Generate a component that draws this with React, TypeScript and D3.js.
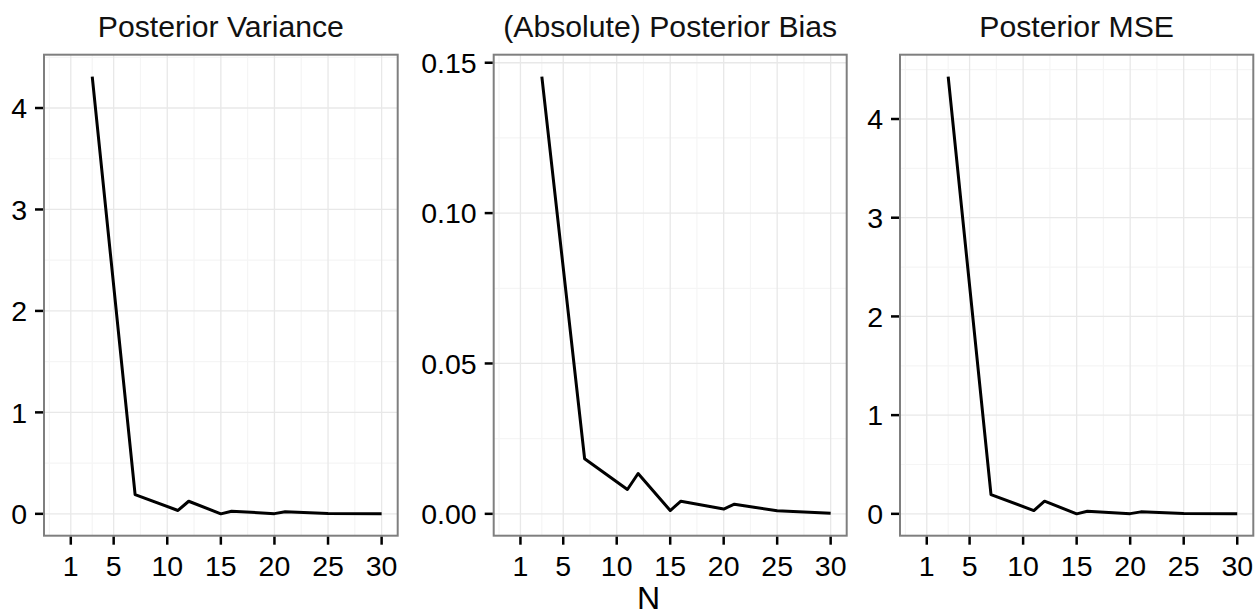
import React from "react";
import * as d3 from "d3";

const nValues = [3, 7, 11, 12, 15, 16, 20, 21, 25, 30];
const varianceValues = [4.31, 0.19, 0.033, 0.124, 0.0, 0.026, 0.002, 0.02, 0.003, 0.001];
const biasValues = [0.1454, 0.0183, 0.0081, 0.0134, 0.0011, 0.0042, 0.0016, 0.0032, 0.001, 0.0002];
const mseValues = [4.43, 0.195, 0.033, 0.128, 0.0, 0.027, 0.002, 0.02, 0.003, 0.001];

const xBreaks = [1, 5, 10, 15, 20, 25, 30];
const xLimits = [0, 30];
const titles = ["Posterior Variance", "(Absolute) Posterior Bias", "Posterior MSE"];
const yBreaksVar = [0, 1, 2, 3, 4];
const yBreaksBias = [0, 0.05, 0.1, 0.15];
const yBreaksMse = [0, 1, 2, 3, 4];
const xTitle = "N";

const W = 1258;
const H = 616;
const FONT = "'Liberation Sans', Arial, Helvetica, sans-serif";
const TOP = 54.7;
const BOTTOM = 535.7;
const TICK_FS = 28.5;
const TITLE_FS = 30.2;

function expand(lo: number, hi: number): [number, number] {
  const d = (hi - lo) * 0.05;
  return [lo - d, hi + d];
}

function minorBreaks(b: number[], dom: [number, number]): number[] {
  const bb = [...b];
  const bd0 = bb[1] - bb[0];
  const bd1 = bb[bb.length - 1] - bb[bb.length - 2];
  if (dom[0] < bb[0]) bb.unshift(bb[0] - bd0);
  if (dom[1] > bb[bb.length - 1]) bb.push(bb[bb.length - 1] + bd1);
  const out: number[] = [];
  for (let i = 0; i < bb.length - 1; i++) {
    const m = (bb[i] + bb[i + 1]) / 2;
    if (m >= dom[0] && m <= dom[1]) out.push(m);
  }
  return out;
}

type PanelProps = {
  left: number;
  right: number;
  title: string;
  values: number[];
  yBreaks: number[];
  fmt: (v: number) => string;
};

function Panel({ left, right, title, values, yBreaks, fmt }: PanelProps) {
  const xDom = expand(xLimits[0], xLimits[1]);
  const x = d3.scaleLinear().domain(xDom).range([left, right]);
  const yExt = d3.extent(values) as [number, number];
  const yDom = expand(Math.min(0, yExt[0]), yExt[1]);
  const y = d3.scaleLinear().domain(yDom).range([BOTTOM, TOP]);
  const xMinor = minorBreaks(xBreaks, xDom);
  const yMinor = minorBreaks(yBreaks, yDom);
  const line = d3
    .line<number>()
    .x((_, i) => x(nValues[i]))
    .y((d) => y(d));
  const tickLen = 9;
  return (
    <g>
      <rect x={left} y={TOP} width={right - left} height={BOTTOM - TOP} fill="#ffffff" />
      {xMinor.map((v, i) => (
        <line key={"xm" + i} x1={x(v)} x2={x(v)} y1={TOP} y2={BOTTOM} stroke="#f5f5f5" strokeWidth={1.2} />
      ))}
      {yMinor.map((v, i) => (
        <line key={"ym" + i} x1={left} x2={right} y1={y(v)} y2={y(v)} stroke="#f5f5f5" strokeWidth={1.2} />
      ))}
      {xBreaks.map((v, i) => (
        <line key={"xM" + i} x1={x(v)} x2={x(v)} y1={TOP} y2={BOTTOM} stroke="#e8e8e8" strokeWidth={1.3} />
      ))}
      {yBreaks.map((v, i) => (
        <line key={"yM" + i} x1={left} x2={right} y1={y(v)} y2={y(v)} stroke="#e8e8e8" strokeWidth={1.3} />
      ))}
      <path d={line(values) || ""} fill="none" stroke="#000000" strokeWidth={3} strokeLinejoin="round" />
      <rect x={left} y={TOP} width={right - left} height={BOTTOM - TOP} fill="none" stroke="#7f7f7f" strokeWidth={2} />
      {xBreaks.map((v, i) => (
        <g key={"xt" + i}>
          <line x1={x(v)} x2={x(v)} y1={BOTTOM + 1} y2={BOTTOM + tickLen} stroke="#000" strokeWidth={2.5} />
          <text x={x(v)} y={575.5} textAnchor="middle" fontSize={TICK_FS} fontFamily={FONT} fill="#000">
            {String(v)}
          </text>
        </g>
      ))}
      {yBreaks.map((v, i) => (
        <g key={"yt" + i}>
          <line x1={left - tickLen} x2={left - 1} y1={y(v)} y2={y(v)} stroke="#000" strokeWidth={2.5} />
          <text x={left - tickLen - 8} y={y(v) + 10.2} textAnchor="end" fontSize={TICK_FS} fontFamily={FONT} fill="#000">
            {fmt(v)}
          </text>
        </g>
      ))}
      <text x={(left + right) / 2} y={37} textAnchor="middle" fontSize={TITLE_FS} fontFamily={FONT} fill="#111">
        {title}
      </text>
    </g>
  );
}

export default function App() {
  const intFmt = (v: number) => d3.format("d")(v);
  const bFmt = (v: number) => d3.format(".2f")(v);
  return (
    <svg
      width={W}
      height={H}
      viewBox={`0 0 ${W} ${H}`}
      style={{ position: "absolute", left: 0, top: 0, background: "#ffffff" }}
    >
      <rect x={0} y={0} width={W} height={H} fill="#ffffff" />
      <Panel left={44} right={397.7} title={titles[0]} values={varianceValues} yBreaks={yBreaksVar} fmt={intFmt} />
      <Panel left={493.7} right={846.7} title={titles[1]} values={biasValues} yBreaks={yBreaksBias} fmt={bFmt} />
      <Panel left={900} right={1253.3} title={titles[2]} values={mseValues} yBreaks={yBreaksMse} fmt={intFmt} />
      <text x={648.5} y={608.5} textAnchor="middle" fontSize={32} fontFamily={FONT} fill="#000">
        {xTitle}
      </text>
    </svg>
  );
}
